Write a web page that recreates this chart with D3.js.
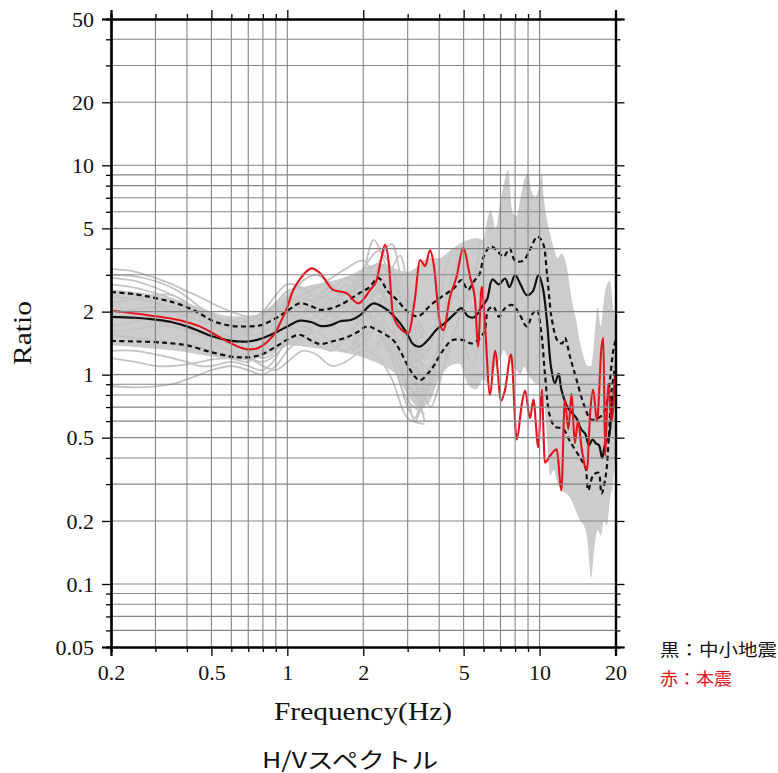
<!DOCTYPE html>
<html><head><meta charset="utf-8">
<script src="https://cdn.jsdelivr.net/npm/d3@7"></script>
<style>body{margin:0;background:#fff}</style>
</head><body><svg id="c" width="778" height="773"></svg>
<script>
// ---------- DATA ----------
const xTicks = [0.2,0.3,0.4,0.5,0.6,0.7,0.8,0.9,1,2,3,4,5,6,7,8,9,10,20];
const xLabels = [0.2,0.5,1,2,5,10,20];
const yTicks = [0.05,0.06,0.07,0.08,0.09,0.1,0.2,0.3,0.4,0.5,0.6,0.7,0.8,0.9,1,2,3,4,5,6,7,8,9,10,20,30,40,50];
const yLabels = [0.05,0.1,0.2,0.5,1,2,5,10,20,50];

// individual small-event spectra (low-frequency part)
const grayFreq = [0.2,0.25,0.3,0.35,0.4,0.45,0.5,0.6,0.7,0.8,0.9,1.0,1.15,1.3,1.5,1.7,2.0,2.3,2.6,3.0,3.5];
const gray1  = [3.2,3.1,2.9,2.7,2.5,2.35,2.2,2.0,1.9,1.95,2.2,2.5,2.6,2.4,2.3,2.5,2.9,3.4,2.8,2.0,1.5];
const gray2  = [2.9,2.8,2.6,2.4,2.2,2.0,1.9,1.8,1.8,2.0,2.4,2.7,2.6,2.3,2.5,2.9,2.6,2.2,3.0,1.8,1.2];
const gray3  = [0.88,0.87,0.88,0.9,0.95,1.0,1.05,1.1,1.05,1.0,1.1,1.3,1.5,1.6,1.4,1.3,1.6,1.8,1.3,0.9,0.7];
const gray4  = [1.3,1.3,1.25,1.2,1.15,1.1,1.1,1.15,1.1,1.05,1.2,1.5,1.7,1.6,1.7,1.5,1.4,1.8,1.4,1.0,0.8];
const gray5  = [2.2,2.3,2.4,2.4,2.2,2.0,1.7,1.5,1.3,1.4,1.7,2.0,2.1,1.9,1.8,2.2,2.4,2.0,1.6,1.3,1.1];
const gray6  = [1.7,1.8,1.9,2.0,2.0,1.9,1.8,1.6,1.4,1.3,1.5,1.9,2.3,2.2,2.0,1.8,2.1,2.6,2.0,1.5,1.3];
const gray7  = [2.5,2.4,2.2,2.0,1.8,1.7,1.6,1.5,1.6,1.9,2.1,2.0,1.8,1.9,2.3,2.1,1.8,2.2,2.7,1.7,1.0];
const gray8  = [1.55,1.5,1.45,1.4,1.4,1.35,1.3,1.2,1.15,1.3,1.6,1.7,1.6,1.75,2.0,2.5,2.2,1.6,1.2,0.75,0.65];
const gray9  = [2.0,2.05,2.1,2.0,1.9,1.8,1.75,1.7,1.6,1.5,1.6,1.8,2.0,2.1,1.9,2.0,2.8,3.0,2.3,1.6,1.5];
const gray10 = [1.9,1.85,1.8,1.7,1.6,1.55,1.5,1.4,1.3,1.2,1.3,1.6,1.9,2.3,2.6,2.2,2.0,1.7,1.5,1.2,0.9];
const gray11 = [2.7,2.6,2.45,2.3,2.1,1.95,1.8,1.65,1.55,1.6,1.8,2.2,2.4,2.6,2.9,3.2,3.5,2.6,1.9,1.4,1.2];
const gray12 = [1.6,1.65,1.7,1.7,1.65,1.55,1.45,1.3,1.2,1.15,1.25,1.4,1.5,1.4,1.3,1.5,1.9,2.5,2.4,1.3,0.6];
const gray13 = [3.0,2.95,2.8,2.6,2.35,2.1,1.95,1.75,1.7,1.75,2.0,2.3,2.8,3.0,2.7,2.4,3.2,3.9,3.2,2.2,1.6];
const gray14 = [1.2,1.15,1.1,1.1,1.12,1.15,1.18,1.2,1.2,1.1,1.05,1.15,1.3,1.25,1.1,1.15,1.3,1.2,0.95,0.62,0.58];
const gray15 = [2.35,2.3,2.2,2.1,2.0,1.9,1.8,1.7,1.65,1.7,1.95,2.3,2.2,2.0,2.2,2.7,2.3,2.0,2.2,1.4,0.9];

// individual small-event spectra (mid-frequency part)
const grayMidFreq = [1.8,2.0,2.2,2.4,2.6,2.8,3.0,3.2,3.4,3.7,4.0,4.3,4.6,5.0,5.4,5.8];
const grayM1 = [2.4,3.1,4.4,3.6,2.6,1.9,1.4,1.0,0.8,0.9,1.3,1.8,2.4,2.2,2.6,3.2];
const grayM2 = [2.0,2.4,2.8,3.8,4.2,3.0,2.0,1.3,0.9,0.7,0.9,1.3,1.6,2.2,2.8,2.4];
const grayM3 = [1.6,1.5,1.8,2.3,1.8,1.2,0.8,0.6,0.7,1.0,1.5,2.4,3.2,3.7,3.0,3.8];
const grayM4 = [1.9,2.6,3.0,2.5,3.2,3.7,2.6,1.7,1.2,1.4,2.2,3.4,4.0,3.2,2.6,4.4];
const grayM5 = [1.3,1.4,1.3,1.5,1.2,0.9,0.7,0.62,0.75,1.1,1.0,1.2,1.6,1.4,1.1,1.5];

// envelope (dense core) of the small-event spectra
const bandFreq = [0.2,0.3,0.4,0.5,0.6,0.7,0.8,0.9,1.0,1.2,1.5,1.8,2.1,2.4,2.7,3.0,3.3,3.6,4.0,4.4,4.8,5.2,5.6,6.0,6.2,6.4,6.7,7.0,7.2,7.5,7.8,8.1,8.4,8.7,9.0,9.3,9.6,10.0,10.2,10.4,10.7,11.0,11.4,11.8,12.2,12.8,13.4,14.0,14.5,15.0,15.5,16.0,16.5,17.0,17.5,18.0,18.5,19.0,19.5,20.0];
const bandHigh = [2.55,2.4,2.2,2.0,1.9,1.9,2.0,2.2,2.45,2.65,2.8,3.0,3.3,3.4,3.2,3.1,3.3,3.6,3.6,3.9,4.2,4.4,4.5,4.4,5.5,6.1,5.0,6.8,8.0,9.5,6.0,5.7,7.0,8.5,9.2,7.5,7.1,8.0,9.2,7.0,5.5,4.7,4.0,3.6,3.8,3.3,2.3,1.8,1.4,1.2,1.1,1.1,1.5,2.1,1.7,2.3,2.7,2.8,2.2,1.7];
const bandLow  = [1.38,1.33,1.28,1.22,1.18,1.17,1.22,1.3,1.38,1.35,1.3,1.25,1.18,1.1,1.0,0.8,0.7,0.72,0.95,1.1,1.13,0.9,0.85,0.95,0.91,1.0,1.1,1.2,1.31,1.2,1.1,1.05,1.0,1.09,1.0,0.95,0.91,0.9,0.8,0.76,0.5,0.33,0.35,0.3,0.28,0.27,0.25,0.22,0.2,0.19,0.16,0.107,0.15,0.18,0.17,0.2,0.19,0.25,0.3,0.4];

// mean of small events (black)
const meanFreq = [0.2,0.25,0.3,0.35,0.4,0.45,0.5,0.55,0.6,0.65,0.7,0.78,0.9,1.0,1.12,1.25,1.35,1.5,1.62,1.8,1.95,2.1,2.2,2.4,2.6,2.8,3.0,3.15,3.35,3.6,3.9,4.2,4.6,4.9,5.2,5.5,5.9,6.2,6.5,6.9,7.3,7.6,8.0,8.4,8.9,9.4,9.9,10.3,10.7,11.1,11.5,11.9,12.2,12.9,13.4,14.0,14.6,15.2,15.7,16.2,16.7,17.2,17.7,18.3,18.8,19.3,20];
const meanVal  = [1.89,1.87,1.83,1.78,1.70,1.61,1.53,1.48,1.45,1.44,1.44,1.48,1.59,1.70,1.81,1.78,1.71,1.73,1.80,1.83,1.93,2.12,2.19,2.10,1.95,1.76,1.55,1.40,1.36,1.46,1.64,1.76,1.95,2.08,1.90,1.88,2.11,2.3,2.85,2.7,2.88,2.62,2.99,2.7,2.4,2.5,3.0,2.6,1.8,1.09,0.91,1.01,0.85,0.70,0.66,0.62,0.55,0.52,0.46,0.49,0.47,0.46,0.40,0.48,0.50,0.68,0.94];

// mean + sigma (dashed)
const upFreq = [0.2,0.25,0.3,0.35,0.4,0.45,0.5,0.55,0.6,0.65,0.7,0.78,0.9,1.0,1.12,1.25,1.35,1.5,1.62,1.8,1.95,2.1,2.3,2.5,2.7,3.0,3.3,3.7,4.1,4.6,4.9,5.2,5.5,5.8,6.0,6.4,6.8,7.2,7.6,8.0,8.6,9.2,9.8,10.3,10.7,11.2,11.8,12.3,12.6,13.2,14.0,15.1,16.0,17.1,18.0,18.8,19.6,20];
const upVal  = [2.48,2.42,2.32,2.22,2.1,1.96,1.82,1.75,1.71,1.70,1.70,1.72,1.86,2.02,2.19,2.12,2.04,2.08,2.15,2.32,2.47,2.6,2.89,2.5,2.3,2.0,1.9,2.15,2.36,2.6,2.83,2.54,2.8,3.05,3.66,4.1,3.9,3.66,4.0,3.5,3.5,4.0,4.56,4.26,3.05,1.82,1.45,1.41,1.5,1.22,0.95,0.70,0.61,0.62,0.66,0.85,1.31,1.45];

// mean - sigma (dashed)
const loFreq = [0.2,0.3,0.35,0.4,0.5,0.6,0.65,0.7,0.78,0.9,1.0,1.12,1.25,1.35,1.5,1.7,1.9,2.07,2.3,2.63,2.8,2.97,3.2,3.36,3.7,4.15,4.5,5.0,5.4,6.0,6.26,6.56,6.9,7.3,7.8,8.3,8.9,9.4,9.75,10.2,10.5,11.0,11.5,12.4,13.2,14.5,15.2,15.6,16.3,17.1,17.6,18.3,18.8,19.3,20];
const loVal  = [1.45,1.43,1.41,1.38,1.28,1.22,1.21,1.21,1.24,1.36,1.47,1.55,1.45,1.40,1.44,1.50,1.60,1.70,1.62,1.46,1.3,1.13,0.98,0.94,1.05,1.31,1.46,1.46,1.41,1.58,2.04,2.11,1.89,2.08,2.15,1.96,1.70,1.96,2.04,1.52,1.01,0.63,0.565,0.55,0.48,0.40,0.36,0.28,0.33,0.34,0.27,0.33,0.49,0.845,1.1];

// main shock (red)
const redFreq = [0.2,0.25,0.3,0.35,0.4,0.45,0.5,0.55,0.6,0.65,0.7,0.75,0.8,0.85,0.9,0.94,1.0,1.05,1.12,1.25,1.35,1.52,1.72,1.91,2.13,2.26,2.36,2.44,2.52,2.62,2.76,3.02,3.2,3.36,3.52,3.68,3.8,4.03,4.15,4.42,4.69,4.98,5.3,5.55,5.7,5.9,6.08,6.36,6.66,7.04,7.3,7.71,8.12,8.5,8.76,9.17,9.45,9.89,10.2,10.5,11.0,11.7,12.2,12.6,13.0,13.4,13.8,14.2,14.7,15.4,15.9,16.3,16.9,17.6,17.9,18.2,18.7,19.3,19.9];
const redVal  = [2.02,1.96,1.90,1.85,1.78,1.70,1.59,1.49,1.41,1.35,1.32,1.33,1.38,1.47,1.60,1.78,2.1,2.5,2.85,3.22,3.05,2.54,2.45,2.19,2.54,2.83,3.6,4.17,3.5,1.96,1.70,1.58,2.27,3.53,3.3,3.94,3.4,1.76,1.63,2.36,2.94,4.02,2.94,2.27,1.36,2.63,1.70,0.80,1.3,0.75,0.85,1.25,0.49,0.72,0.84,0.62,0.76,0.45,0.85,0.38,0.41,0.44,0.28,0.76,0.55,0.81,0.47,0.6,0.44,0.35,0.68,0.85,0.6,1.35,1.5,0.41,0.9,0.6,1.0];

// ---------- DRAW ----------
const svg = d3.select("#c");
const x = d3.scaleLog().domain([0.2,20]).range([111,615.5]);
const y = d3.scaleLog().domain([0.05,50]).range([647,19]);
const L = 111, R = 615.5, T = 19, B = 647;

const zip = (fs, vs) => fs.map((f,i) => [f, vs[i]]);
const line = d3.line().x(d => x(d[0])).y(d => y(d[1])).curve(d3.curveCatmullRom.alpha(0.5));
const lineLin = d3.line().x(d => x(d[0])).y(d => y(d[1])).curve(d3.curveMonotoneX);

svg.append("defs").append("clipPath").attr("id","clip")
  .append("rect").attr("x",L).attr("y",T).attr("width",R-L).attr("height",B-T);
const plot = svg.append("g").attr("clip-path","url(#clip)");

// gray band
const area = d3.area().x((d,i) => x(bandFreq[i])).y0(d => y(d[0])).y1(d => y(d[1])).curve(d3.curveMonotoneX);
plot.append("path").datum(bandFreq.map((f,i) => [bandLow[i], bandHigh[i]]))
  .attr("d", area).attr("fill","#cccccc");

// gray curves
[gray1,gray2,gray3,gray4,gray5,gray6,gray7,gray8,gray9,gray10,gray11,gray12,gray13,gray14,gray15].forEach(g => {
  plot.append("path").datum(zip(grayFreq,g)).attr("d",line)
    .attr("fill","none").attr("stroke","#c4c4c4").attr("stroke-width",1.8);
});
[grayM1,grayM2,grayM3,grayM4,grayM5].forEach(g => {
  plot.append("path").datum(zip(grayMidFreq,g)).attr("d",line)
    .attr("fill","none").attr("stroke","#c4c4c4").attr("stroke-width",1.8);
});

// grid
const grid = svg.append("g");
grid.selectAll("line.vx").data(xTicks.filter(d => d>0.2 && d<20)).join("line")
  .attr("x1",d=>x(d)).attr("x2",d=>x(d)).attr("y1",T).attr("y2",B)
  .attr("stroke","#858585").attr("stroke-width",1.1);
grid.selectAll("line.hy").data(yTicks.filter(d => d>0.05 && d<50)).join("line")
  .attr("y1",d=>y(d)).attr("y2",d=>y(d)).attr("x1",L).attr("x2",R)
  .attr("stroke","#858585").attr("stroke-width",1.1);

// dashed sigma lines
[[upFreq,upVal],[loFreq,loVal]].forEach(([f,v]) => {
  plot.append("path").datum(zip(f,v)).attr("d",line)
    .attr("fill","none").attr("stroke","#111").attr("stroke-width",2.2)
    .attr("stroke-dasharray","5,3.5");
});
// mean
plot.append("path").datum(zip(meanFreq,meanVal)).attr("d",line)
  .attr("fill","none").attr("stroke","#111").attr("stroke-width",2.2);
// red
plot.append("path").datum(zip(redFreq,redVal)).attr("d",lineLin)
  .attr("fill","none").attr("stroke","#e3141b").attr("stroke-width",2.1);

// axes
const serif = "'Liberation Serif','Times New Roman',serif";
function fmt(d){ return String(d); }
const axes = [
  {g: d3.axisBottom, t:`translate(0,${B})`, sc:x, ticks:xTicks, labels:xLabels, show:true},
  {g: d3.axisTop, t:`translate(0,${T})`, sc:x, ticks:xTicks, labels:xLabels, show:false},
  {g: d3.axisLeft, t:`translate(${L},0)`, sc:y, ticks:yTicks, labels:yLabels, show:true},
  {g: d3.axisRight, t:`translate(${R},0)`, sc:y, ticks:yTicks, labels:yLabels, show:false}
];
axes.forEach(a => {
  const minor = svg.append("g").attr("transform",a.t)
    .call(a.g(a.sc).tickValues(a.ticks.filter(d=>!a.labels.includes(d))).tickSize(5).tickFormat(""));
  const major = svg.append("g").attr("transform",a.t)
    .call(a.g(a.sc).tickValues(a.labels).tickSize(9).tickPadding(8)
      .tickFormat(a.show ? fmt : ""));
  [minor,major].forEach(g => {
    g.select(".domain").attr("stroke","#000").attr("stroke-width",2.2);
    g.selectAll(".tick line").attr("stroke","#000").attr("stroke-width",1.3);
    g.selectAll(".tick text").attr("font-family",serif).attr("font-size",22).attr("fill","#111");
  });
});

// axis titles
svg.append("text").attr("transform","translate(31,333) rotate(-90)")
  .attr("text-anchor","middle").attr("font-family",serif).attr("font-size",25)
  .attr("textLength",64).attr("lengthAdjust","spacingAndGlyphs").attr("fill","#111").text("Ratio");
svg.append("text").attr("x",363).attr("y",720).attr("text-anchor","middle")
  .attr("font-family",serif).attr("font-size",25)
  .attr("textLength",178).attr("lengthAdjust","spacingAndGlyphs").attr("fill","#111").text("Frequency(Hz)");
const sans = "'Noto Sans CJK JP','Noto Sans',sans-serif";
svg.append("text").attr("x",350).attr("y",768).attr("text-anchor","middle")
  .attr("font-family",sans).attr("font-size",22)
  .attr("textLength",176).attr("lengthAdjust","spacingAndGlyphs").attr("fill","#111").text("H/Vスペクトル");

// legend
svg.append("text").attr("x",660).attr("y",656).attr("font-family",sans).attr("font-size",17)
  .attr("textLength",117).attr("lengthAdjust","spacingAndGlyphs").attr("fill","#111").text("黒：中小地震");
svg.append("text").attr("x",660).attr("y",685).attr("font-family",sans).attr("font-size",17)
  .attr("textLength",72).attr("lengthAdjust","spacingAndGlyphs").attr("fill","#e3141b").text("赤：本震");
</script></body></html>
